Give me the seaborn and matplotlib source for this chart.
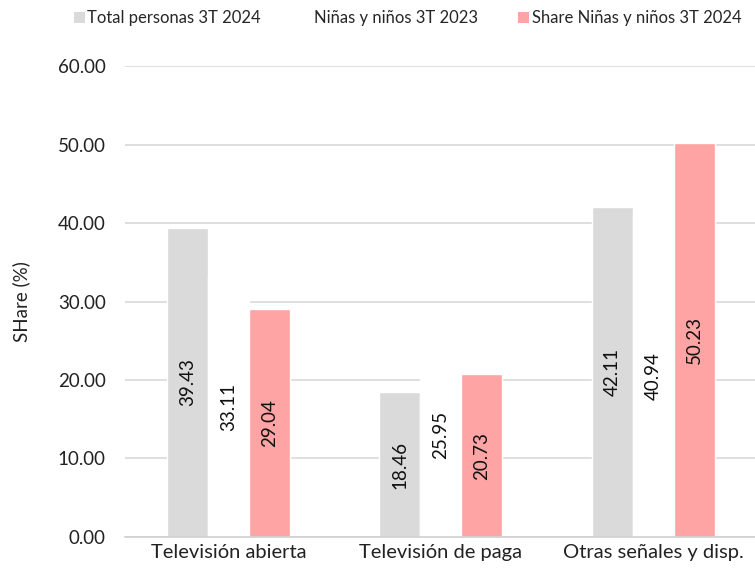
import pandas as pd
import matplotlib.pyplot as plt
import seaborn as sns

# data
categorias = ["Televisión abierta", "Televisión de paga", "Otras señales y disp."]
series = ["Total personas 3T 2024", "Niñas y niños 3T 2023", "Share Niñas y niños 3T 2024"]
total_2024 = [39.43, 18.46, 42.11]
ninos_2023 = [33.11, 25.95, 40.94]
share_ninos_2024 = [29.04, 20.73, 50.23]
colores = ["#DADADA", "#FFFFFF", "#FFA4A4"]

df = pd.DataFrame({
    "categoria": categorias * 3,
    "serie": [series[0]] * 3 + [series[1]] * 3 + [series[2]] * 3,
    "valor": total_2024 + ninos_2023 + share_ninos_2024,
})

sns.set_style("white")
plt.rcParams['font.family'] = ['Lato', 'DejaVu Sans']

fig = plt.figure(figsize=(7.55, 5.7), dpi=100)
ax = fig.add_axes([0.166, 0.058, 0.834, 0.826])

sns.barplot(data=df, x="categoria", y="valor", hue="serie", order=categorias,
            hue_order=series, palette=colores, width=0.58, saturation=1,
            errorbar=None, ax=ax, legend=False, zorder=2)

# value labels inside the bars, rotated
for cont in ax.containers:
    ax.bar_label(cont, fmt="%.2f", label_type="center", rotation=90,
                 fontsize=13.5, color="#111111")

ax.set_ylim(0, 60)
ax.set_xlim(-0.486, 2.48)
ax.set_yticks(range(0, 61, 10))
ax.set_yticklabels([f"{v:.2f}" for v in range(0, 61, 10)])
ax.yaxis.grid(True, color="#D9D9D9", linewidth=1.2, zorder=0)
ax.set_axisbelow(True)
for s in ["top", "right", "left"]:
    ax.spines[s].set_visible(False)
ax.spines["bottom"].set_color("#D0D0D0")
ax.spines["bottom"].set_linewidth(1.2)
ax.tick_params(axis="y", labelsize=13.5, colors="#222222", pad=14, length=0)
ax.tick_params(axis="x", labelsize=14.5, colors="#222222", pad=5, length=0)
ax.set_xlabel("")
ax.set_ylabel("SHare (%)", fontsize=13.5, color="#222222", labelpad=20)

# legend on top
handles = [plt.Rectangle((0, 0), 1, 1, facecolor=c, edgecolor="none") for c in colores]
fig.legend(handles, series, loc="upper left", bbox_to_anchor=(0.078, 1.008), ncol=3,
           frameon=False, fontsize=12, handlelength=0.65, handleheight=0.65,
           handletextpad=0.15, columnspacing=2.4)

fig.savefig("out.png", dpi=100)
